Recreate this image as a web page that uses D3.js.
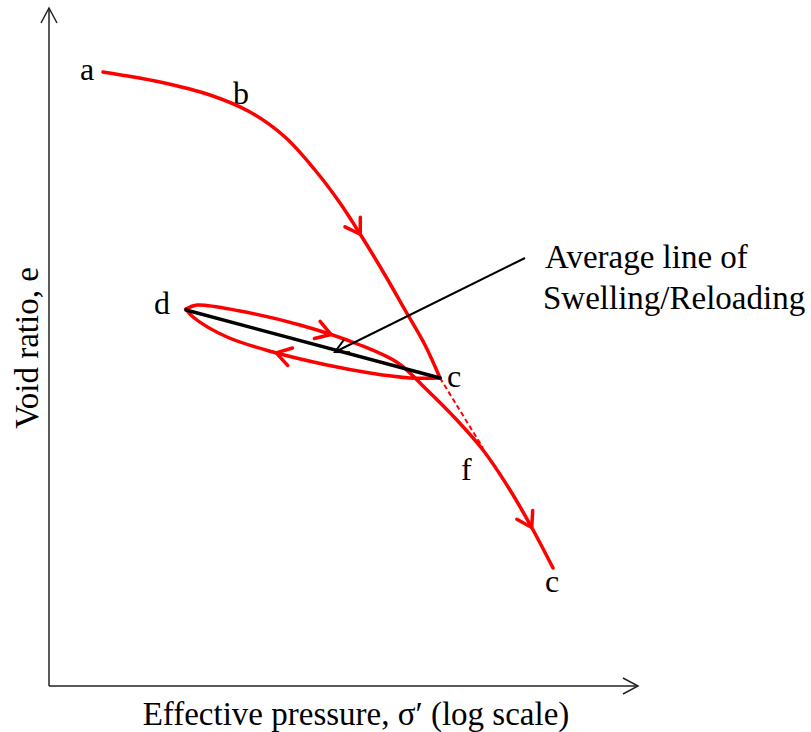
<!DOCTYPE html>
<html><head><meta charset="utf-8">
<script src="https://cdn.jsdelivr.net/npm/d3@7"></script>
<style>body{margin:0;background:#fff}svg{display:block}text{font-family:"Liberation Serif","Times New Roman",serif;fill:#000}</style>
</head><body><div id="chart"></div>
<script>
// Schematic e–log σ' diagram; values in diagram units (x: log-pressure units, y: void-ratio units)
const loadingX = [54,111,161,201,236,266,291,313,336,356,376,391];
const loadingY = [614,604,591,574,549,516,483,449,411,376,341,308];
const unloadX = [391,361,321,278,224,178,144,137];
const unloadY = [308,308,313,321,334,349,369,377];
const reloadX = [137,148,191,251,311,349,376,406,434,461,483,504];
const reloadY = [377,381,375,361,341,323,298,268,236,196,158,118];
const averageX = [137,391];
const averageY = [376,308];
const dashedX = [391,434];
const dashedY = [308,238];
const pointerX = [476,286];
const pointerY = [428,334];
const pointLabels = [
  {t:"a", x:31, y:606}, {t:"b", x:184, y:582}, {t:"d", x:105, y:372},
  {t:"c", x:398, y:299}, {t:"f", x:412, y:206}, {t:"c", x:496, y:94}
];
const directionMarks = [ // fraction along each path
  {series:"loading", t:0.66}, {series:"reload", t:0.31}, {series:"unload", t:0.62}, {series:"reload", t:0.905}
];
const annotation = ["Average line of", "Swelling/Reloading"];
const xTitle = "Effective pressure, σ′ (log scale)";
const yTitle = "Void ratio, e";

const W = 811, H = 732;
const svg = d3.select("#chart").append("svg").attr("width", W).attr("height", H);
const x = d3.scaleLinear().domain([0, 590]).range([49, 639]);
const y = d3.scaleLinear().domain([0, 678]).range([686, 8]);
const red = "#ff0000";

// axes
svg.append("line").attr("x1", x(0)).attr("y1", y(0)).attr("x2", x(0)).attr("y2", y(678))
  .attr("stroke", "#222").attr("stroke-width", 1.5);
svg.append("line").attr("x1", x(0)).attr("y1", y(0)).attr("x2", x(589)).attr("y2", y(0))
  .attr("stroke", "#222").attr("stroke-width", 1.5);
svg.append("path").attr("d", `M${x(0)-8},${y(678)+15}L${x(0)},${y(678)}L${x(0)+8},${y(678)+15}`)
  .attr("fill", "none").attr("stroke", "#222").attr("stroke-width", 1.5);
svg.append("path").attr("d", `M${x(589)-15},${y(0)-8}L${x(589)},${y(0)}L${x(589)-15},${y(0)+8}`)
  .attr("fill", "none").attr("stroke", "#222").attr("stroke-width", 1.5);

const line = d3.line().x(d => x(d[0])).y(d => y(d[1])).curve(d3.curveCatmullRom.alpha(0.5));
const zip = (a, b) => a.map((v, i) => [v, b[i]]);
const paths = {};
paths.loading = svg.append("path").attr("d", line(zip(loadingX, loadingY)));
paths.unload = svg.append("path").attr("d", line(zip(unloadX, unloadY)));
paths.reload = svg.append("path").attr("d", line(zip(reloadX, reloadY)));
Object.values(paths).forEach(p => p.attr("fill", "none").attr("stroke", red).attr("stroke-width", 3.5).attr("stroke-linecap", "round"));

// dashed extension
svg.append("line").attr("x1", x(dashedX[0])).attr("y1", y(dashedY[0])).attr("x2", x(dashedX[1])).attr("y2", y(dashedY[1]))
  .attr("stroke", red).attr("stroke-width", 2).attr("stroke-dasharray", "5,3");

// average line
svg.append("line").attr("x1", x(averageX[0])).attr("y1", y(averageY[0])).attr("x2", x(averageX[1])).attr("y2", y(averageY[1]))
  .attr("stroke", "#000").attr("stroke-width", 3.5).attr("stroke-linecap", "round");

// direction chevrons
directionMarks.forEach(m => {
  const node = paths[m.series].node();
  const L = node.getTotalLength();
  const p = node.getPointAtLength(L * m.t);
  const p2 = node.getPointAtLength(Math.min(L, L * m.t + 2));
  const p1 = node.getPointAtLength(Math.max(0, L * m.t - 2));
  const ang = Math.atan2(p2.y - p1.y, p2.x - p1.x);
  const len = 17, spread = Math.PI / 5.6;
  const a1 = ang + Math.PI - spread, a2 = ang + Math.PI + spread;
  svg.append("path")
    .attr("d", `M${p.x + len*Math.cos(a1)},${p.y + len*Math.sin(a1)}L${p.x},${p.y}L${p.x + len*Math.cos(a2)},${p.y + len*Math.sin(a2)}`)
    .attr("fill", "none").attr("stroke", red).attr("stroke-width", 3.5).attr("stroke-linecap", "round").attr("stroke-linejoin", "round");
});

// pointer arrow
{
  const x1 = x(pointerX[0]), y1 = y(pointerY[0]), x2 = x(pointerX[1]), y2 = y(pointerY[1]);
  svg.append("line").attr("x1", x1).attr("y1", y1).attr("x2", x2).attr("y2", y2).attr("stroke", "#000").attr("stroke-width", 2);
  const ang = Math.atan2(y2 - y1, x2 - x1), len = 15, sp = Math.PI / 6.5;
  svg.append("path")
    .attr("d", `M${x2 - len*Math.cos(ang - sp)},${y2 - len*Math.sin(ang - sp)}L${x2},${y2}L${x2 - len*Math.cos(ang + sp)},${y2 - len*Math.sin(ang + sp)}`)
    .attr("fill", "none").attr("stroke", "#000").attr("stroke-width", 2);
}

// labels
svg.selectAll("text.pt").data(pointLabels).join("text").attr("class", "pt")
  .attr("x", d => x(d.x)).attr("y", d => y(d.y)).attr("font-size", 32).text(d => d.t);

svg.append("text").attr("x", 545).attr("y", 268).attr("font-size", 33).text(annotation[0]);
svg.append("text").attr("x", 543).attr("y", 309).attr("font-size", 33).text(annotation[1]);

svg.append("text").attr("x", 356).attr("y", 725).attr("text-anchor", "middle").attr("font-size", 33).text(xTitle);
svg.append("text").attr("transform", "translate(38,348) rotate(-90)").attr("text-anchor", "middle").attr("font-size", 33).text(yTitle);
</script></body></html>
